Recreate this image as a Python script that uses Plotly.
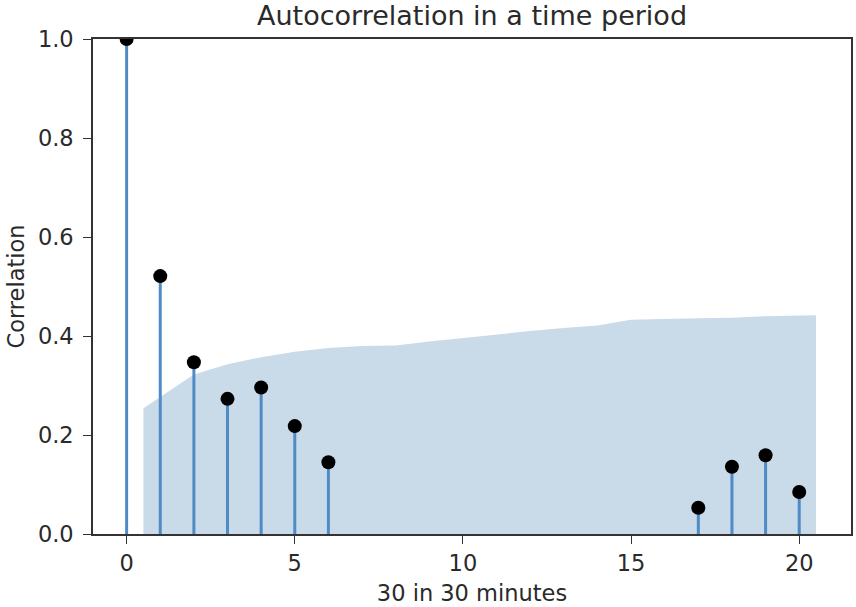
import plotly.graph_objects as go

# Autocorrelation values per lag (lags 7-16 fall below zero, outside the shown range)
lags = [0, 1, 2, 3, 4, 5, 6, 17, 18, 19, 20]
acf_values = [1.0, 0.521, 0.347, 0.273, 0.296, 0.218, 0.145, 0.053, 0.136, 0.159, 0.085]

# Upper edge of the 95% confidence band
band_x = [0.5, 2, 3, 4, 5, 6, 7, 8, 9, 10, 11, 12, 13, 14, 15, 16, 17, 18, 19, 20.5]
band_upper = [0.254, 0.322, 0.343, 0.357, 0.368, 0.376, 0.380, 0.381, 0.389, 0.396,
              0.404, 0.410, 0.416, 0.421, 0.433, 0.435, 0.436, 0.437, 0.440, 0.442]

x_ticks = [0, 5, 10, 15, 20]
y_ticks = [0.0, 0.2, 0.4, 0.6, 0.8, 1.0]

stem_color = "#4f8bc4"
band_color = "#c9dae9"
text_color = "#2a2a2a"
font_family = "DejaVu Sans"
label_size = 22.5
title_size = 27

fig = go.Figure()

# Confidence band
fig.add_trace(go.Scatter(
    x=band_x, y=band_upper, mode="lines", line=dict(width=0),
    fill="tozeroy", fillcolor=band_color, hoverinfo="skip", showlegend=False,
))

# Stems from zero to each autocorrelation value
stem_x, stem_y = [], []
for lag, val in zip(lags, acf_values):
    stem_x += [lag, lag, None]
    stem_y += [0, val, None]
fig.add_trace(go.Scatter(
    x=stem_x, y=stem_y, mode="lines", line=dict(color=stem_color, width=3),
    hoverinfo="skip", showlegend=False,
))

# Markers at the top of each stem
fig.add_trace(go.Scatter(
    x=lags, y=acf_values, mode="markers",
    marker=dict(color="black", size=14, line=dict(width=0)),
    showlegend=False,
))

axis_common = dict(
    showgrid=False, zeroline=False, showline=True, mirror=True,
    linecolor="#333333", linewidth=1.6,
    ticks="outside", ticklen=8, tickwidth=1.4, tickcolor="#333333",
    tickfont=dict(family=font_family, size=label_size, color=text_color),
)

fig.update_layout(
    width=856, height=607,
    margin=dict(l=93, r=3, t=39, b=73),
    paper_bgcolor="white", plot_bgcolor="white",
    font=dict(family=font_family, color=text_color),
    title=dict(
        text="Autocorrelation in a time period",
        x=0.5, xref="paper", xanchor="center",
        y=1 - 16 / 607, yref="container", yanchor="middle",
        font=dict(family=font_family, size=title_size, color=text_color),
    ),
    xaxis=dict(
        range=[-1, 21.54], tickvals=x_ticks, ticktext=[str(t) for t in x_ticks],
        title=dict(text="30 in 30 minutes", standoff=10,
                   font=dict(family=font_family, size=label_size, color=text_color)),
        **axis_common,
    ),
    yaxis=dict(
        range=[0, 1.0], tickvals=y_ticks, ticktext=[f"{t:.1f}" for t in y_ticks],
        ticklabelstandoff=5,
        title=dict(text="Correlation", standoff=7,
                   font=dict(family=font_family, size=label_size, color=text_color)),
        **axis_common,
    ),
)

fig.write_html("out.html")
